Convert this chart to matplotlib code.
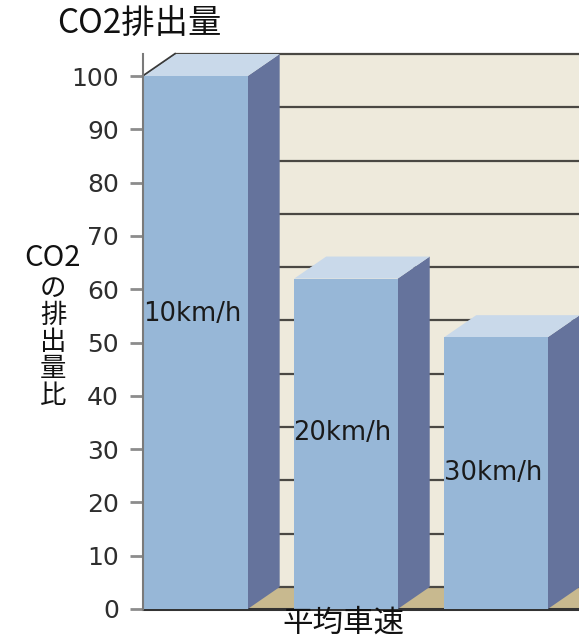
import matplotlib
matplotlib.use("Agg")
import matplotlib.pyplot as plt
from matplotlib.patches import Polygon

# Data
speeds = ["10km/h", "20km/h", "30km/h"]
co2_ratio = [100, 62, 51]
y_ticks = [0, 10, 20, 30, 40, 50, 60, 70, 80, 90, 100]

title = "CO2排出量"
ylabel_top = "CO2"
ylabel_rest = "の\n排\n出\n量\n比"
xlabel = "平均車速"

# Style / layout
W, H = 579, 638
FRONT = "#97b7d7"
TOP = "#c9d9ea"
SIDE = "#65739c"
WALL = "#eeeadc"
FLOOR = "#c8b98f"
GRID = "#4a4843"
CJK = ["Noto Sans CJK JP", "DejaVu Sans"]
LATIN = ["DejaVu Sans"]

bar_width = 0.69
depth_x = 0.213          # depth offset in category units
depth_y = 4.13           # depth offset in value units
label_y = [55.3, 33.0, 25.5]   # height of in-bar speed labels
xl, xr = -0.353, 2.553
y_top = max(y_ticks) + depth_y

fig = plt.figure(figsize=(W / 100, H / 100), dpi=100)
fig.patch.set_facecolor("white")
ax = fig.add_axes([143 / W, 29 / H, (W - 143) / W, (609 - 54) / H])
ax.set_xlim(xl, xr)
ax.set_ylim(0, y_top)
ax.set_facecolor("none")

# Back and side walls, floor
ax.add_patch(Polygon([(xl + depth_x, depth_y), (xr, depth_y), (xr, y_top),
                      (xl + depth_x, y_top)], closed=True, facecolor=WALL,
                     edgecolor="none", zorder=0))
ax.add_patch(Polygon([(xl, 0), (xl + depth_x, depth_y), (xl + depth_x, y_top),
                      (xl, max(y_ticks))], closed=True, facecolor=WALL,
                     edgecolor="none", zorder=0))
ax.add_patch(Polygon([(xl, 0), (xr, 0), (xr, depth_y), (xl + depth_x, depth_y)],
                     closed=True, facecolor=FLOOR, edgecolor="none", zorder=0.5))

# Gridlines on the back wall
for v in y_ticks:
    ax.plot([xl + depth_x, xr], [v + depth_y, v + depth_y], color=GRID,
            lw=1.6, zorder=1, solid_capstyle="butt", clip_on=False)
ax.plot([xl, xl + depth_x], [max(y_ticks), y_top], color="#3a3a3a", lw=1.6,
        zorder=1, clip_on=False)
ax.plot([xl, xr], [0, 0], color="#333333", lw=2.2, zorder=1.5, clip_on=False)

# Bars: front faces through ax.bar, plus side and top faces
x = list(range(len(speeds)))
bars = ax.bar(x, co2_ratio, width=bar_width, color=FRONT, edgecolor="none",
              zorder=3)
for xi, v in zip(x, co2_ratio):
    left = xi - bar_width / 2
    right = xi + bar_width / 2
    ax.add_patch(Polygon([(right, 0), (right + depth_x, depth_y),
                          (right + depth_x, v + depth_y), (right, v)],
                         closed=True, facecolor=SIDE, edgecolor="none", zorder=2.5))
    ax.add_patch(Polygon([(left, v), (right, v), (right + depth_x, v + depth_y),
                          (left + depth_x, v + depth_y)],
                         closed=True, facecolor=TOP, edgecolor="none", zorder=2.5))

for xi, ly, name in zip(x, label_y, speeds):
    ax.text(xi - bar_width / 2 - 0.005, ly, name, ha="left", va="center",
            fontsize=18.5, color="#1a1a1a", family=LATIN, zorder=5)

# Axis
ax.set_xticks([])
ax.set_yticks(y_ticks)
ax.set_yticklabels([str(t) for t in y_ticks], family=LATIN)
ax.tick_params(axis="y", length=9.4, width=2, color="#8c8c8c", pad=8,
               labelsize=18, labelcolor="#2e2e2e")
for side in ("top", "right", "bottom"):
    ax.spines[side].set_visible(False)
ax.spines["left"].set_color("#7a7a7a")
ax.spines["left"].set_linewidth(1.5)
ax.spines["left"].set_zorder(4)

# Titles
fig.text(57 / W, 1 - 24 / H, title, ha="left", va="center", fontsize=24,
         family=CJK, color="#111111")
fig.text(53 / W, 1 - 258 / H, ylabel_top, ha="center", va="center",
         fontsize=21, family=CJK, color="#111111")
fig.text(53 / W, 1 - 342 / H, ylabel_rest, ha="center", va="center",
         fontsize=19, family=CJK, linespacing=0.98, color="#111111")
fig.text(343 / W, 1 - 623 / H, xlabel, ha="center", va="center", fontsize=22,
         family=CJK, color="#111111")

fig.savefig("out.png", dpi=100)
